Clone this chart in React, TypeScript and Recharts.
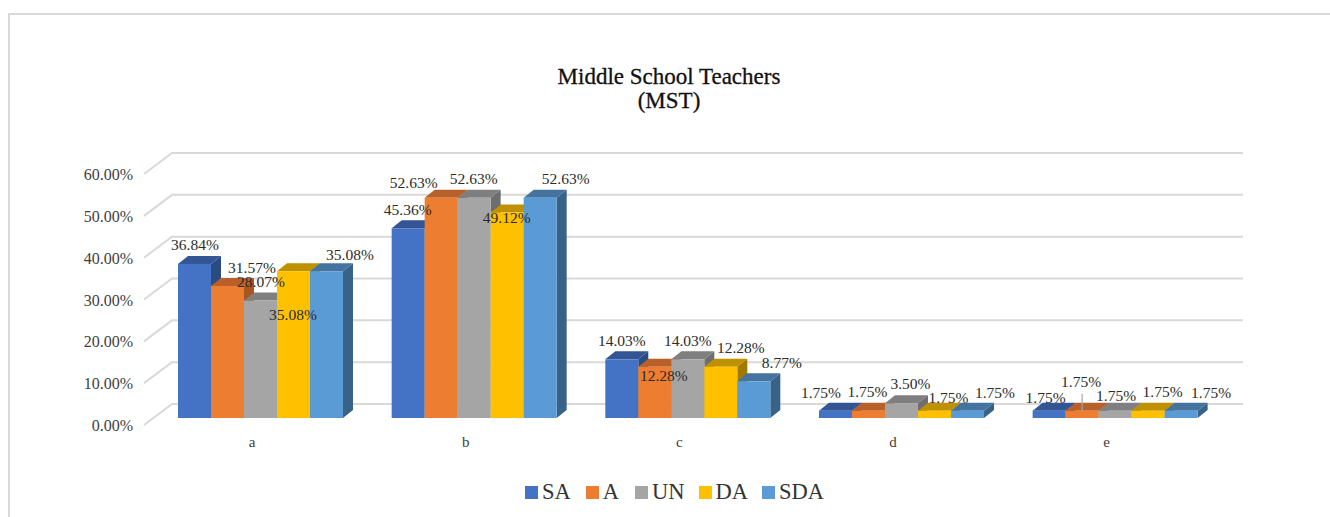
import React from 'react';
import { BarChart, Bar, XAxis, YAxis, CartesianGrid, Legend, LabelList } from 'recharts';

const categories = ['a', 'b', 'c', 'd', 'e'];
const SA = [36.84, 45.36, 14.03, 1.75, 1.75];
const A = [31.57, 52.63, 12.28, 1.75, 1.75];
const UN = [28.07, 52.63, 14.03, 3.5, 1.75];
const DA = [35.08, 49.12, 12.28, 1.75, 1.75];
const SDA = [35.08, 52.63, 8.77, 1.75, 1.75];
const yTicks = [0, 10, 20, 30, 40, 50, 60];

const FONT = '"Liberation Serif", serif';
const DEPTH_X = 10;
const DEPTH_Y = 8;

const data = categories.map((name, i) => ({
  name, SA: SA[i], A: A[i], UN: UN[i], DA: DA[i], SDA: SDA[i],
}));

const seriesList = [
  { key: 'SA', front: '#4472C4', top: '#335593', side: '#2A4A82', legendGap: 15,
    offsets: [[0.5, -19], [-0.5, -19], [0, -19], [-14.5, -18], [-3.5, -13]] },
  { key: 'A', front: '#ED7D31', top: '#B8602A', side: '#A9551F', legendGap: 16,
    offsets: [[24.5, -18], [-27.5, -15], [9, 9], [-1, -19], [-1, -29]] },
  { key: 'UN', front: '#A5A5A5', top: '#7F7F7F', side: '#6E6E6E', legendGap: 14,
    offsets: [[0.5, -19], [-0.5, -19], [0, -19], [9, -20], [1, -15]] },
  { key: 'DA', front: '#FFC000', top: '#BF9000', side: '#A07A00', legendGap: 14,
    offsets: [[-0.5, 43], [-0.5, 5], [20, -19], [14, -13], [14.5, -19]] },
  { key: 'SDA', front: '#5B9BD5', top: '#44739F', side: '#386288', legendGap: 0,
    offsets: [[23.5, -17], [25.5, -19], [28, -19], [27.5, -18], [30, -18]] },
];

const Bar3D = (props: any, s: any) => {
  const { x, y, width, height } = props;
  const r = x + width;
  const b = y + height;
  return (
    <g>
      <polygon points={`${r},${y} ${r + DEPTH_X},${y - DEPTH_Y} ${r + DEPTH_X},${b - DEPTH_Y} ${r},${b}`} fill={s.side} />
      <polygon points={`${x},${y} ${x + DEPTH_X},${y - DEPTH_Y} ${r + DEPTH_X},${y - DEPTH_Y} ${r},${y}`} fill={s.top} />
      <rect x={x} y={y} width={width} height={height} fill={s.front} />
    </g>
  );
};

const renderLabel = (s: any) => (props: any) => {
  const { x, y, width, value, index } = props;
  const [dx, dy] = s.offsets[index];
  const cx = x + width / 2;
  const leader = s.key === 'A' && index === 4;
  return (
    <g>
      {leader && <line x1={cx} x2={cx} y1={y - 17} y2={y} stroke="#A6A6A6" strokeWidth={1.2} />}
      <text x={cx + dx} y={y + dy} textAnchor="middle" dominantBaseline="central" fontFamily={FONT} fontSize={15.5} fill="#2b2b2b">
        {Number(value).toFixed(2)}%
      </text>
    </g>
  );
};

const gridLine = (props: any) => {
  const { y1, index, key } = props;
  return (
    <g key={key ?? index}>
      <polyline points={`144,${y1 + 7} 172,${y1 - 14} 1243,${y1 - 14}`} fill="none" stroke="#D9D9D9" strokeWidth={2} />
    </g>
  );
};

const YTick = (props: any) => {
  const { y, payload } = props;
  return (
    <text x={133} y={y + 7.5} textAnchor="end" dominantBaseline="central" fontFamily={FONT} fontSize={16} fill="#404040">
      {Number(payload.value).toFixed(2)}%
    </text>
  );
};

const XTick = (props: any) => {
  const { x, payload } = props;
  return (
    <text x={x - 8.5} y={442} textAnchor="middle" dominantBaseline="central" fontFamily={FONT} fontSize={15} fill="#404040">
      {payload.value}
    </text>
  );
};

const LegendContent = () => (
  <div style={{ display: 'flex', justifyContent: 'flex-start', alignItems: 'center', height: 26, paddingLeft: 525, fontFamily: FONT, fontSize: 22.5, color: '#333' }}>
    {seriesList.map((s) => (
      <span key={s.key} style={{ display: 'flex', alignItems: 'center', marginRight: s.legendGap }}>
        <span style={{ width: 13, height: 13, background: s.front, marginRight: 4 }} />
        {s.key}
      </span>
    ))}
  </div>
);

export default function App() {
  return (
    <div style={{ position: 'absolute', left: 0, top: 0, width: 1330, height: 517, background: '#fff', overflow: 'hidden' }}>
      <div style={{ position: 'absolute', left: 8, top: 13, width: 1340, height: 540, border: '2px solid #D9D9D9', boxSizing: 'border-box' }} />
      <div style={{ position: 'absolute', left: 0, top: 65, width: 1338, textAlign: 'center', fontFamily: FONT, fontSize: 23, lineHeight: '24px', color: '#111', WebkitTextStroke: '0.3px #111' }}>
        Middle School Teachers<br />(MST)
      </div>
      <BarChart
        width={1330}
        height={517}
        data={data}
        style={{ position: 'absolute', left: 0, top: 0 }}
        margin={{ top: 167, right: 108, bottom: 43, left: 0 }}
        barCategoryGap={24.3}
        barGap={0}
      >
        <CartesianGrid vertical={false} horizontal={gridLine as any} stroke="#D9D9D9" />
        <XAxis dataKey="name" height={30} axisLine={false} tickLine={false} tick={XTick as any} interval={0} />
        <YAxis width={153.7} domain={[0, 60]} ticks={yTicks} axisLine={false} tickLine={false} tick={YTick as any} interval={0} />
        <Legend content={LegendContent as any} wrapperStyle={{ bottom: 12, left: 0, width: 1330 }} />
        {seriesList.map((s) => (
          <Bar key={s.key} dataKey={s.key} fill={s.front} isAnimationActive={false} shape={(p: any) => Bar3D(p, s)}>
            <LabelList dataKey={s.key} content={renderLabel(s) as any} />
          </Bar>
        ))}
      </BarChart>
    </div>
  );
}
